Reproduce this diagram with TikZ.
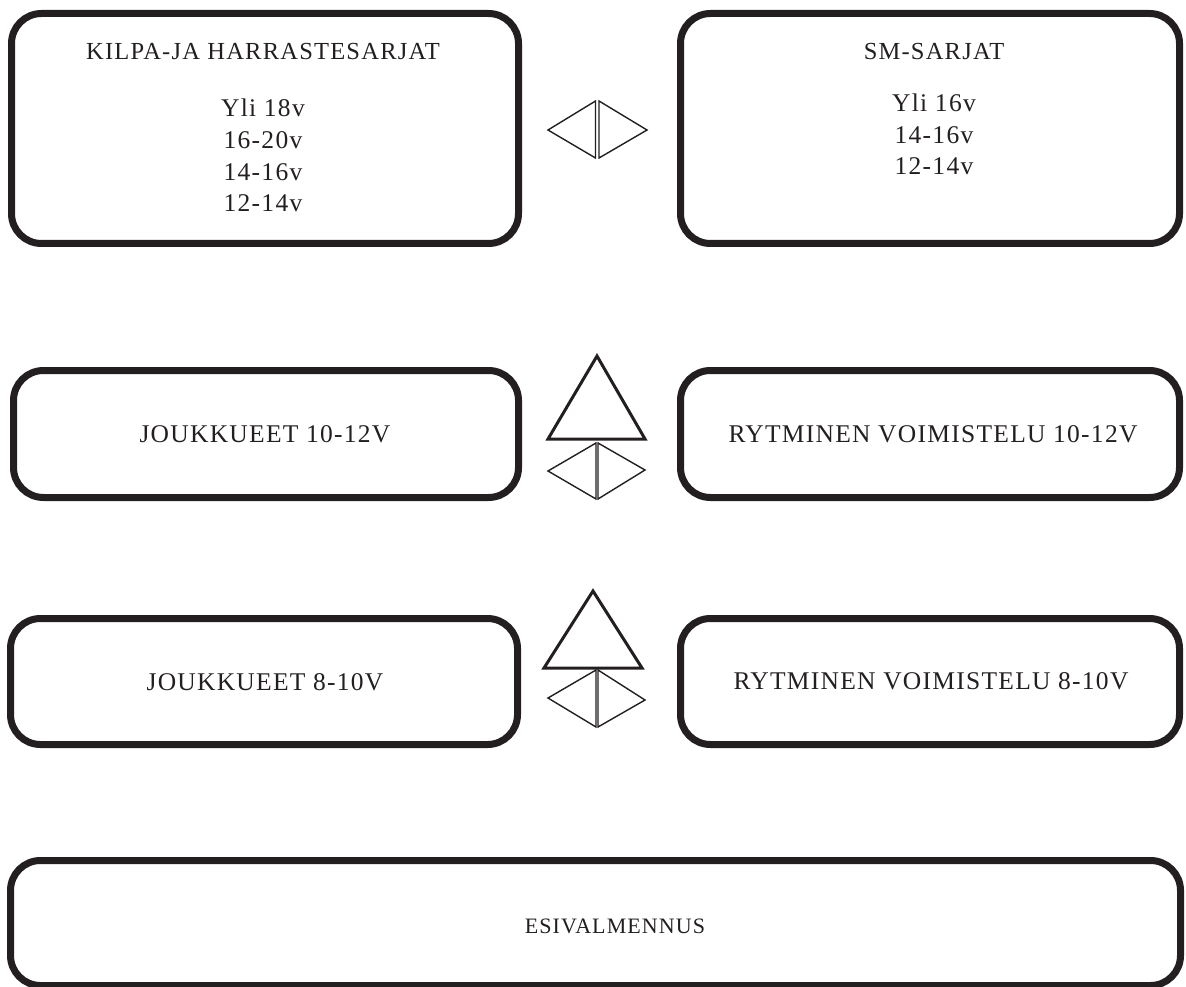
\documentclass[tikz,border=0pt]{standalone}
\usepackage{fontspec}
\setmainfont[LetterSpace=5]{Liberation Serif}
\definecolor{ink}{HTML}{231F20}
\begin{document}
\begin{tikzpicture}[x=1pt,y=-1pt,
  box/.style={draw=ink,line width=7pt,rounded corners=30pt,inner sep=0pt},
  lbl/.style={text=ink,font=\fontsize{25.5}{31.7}\selectfont,inner sep=0pt,align=center},
  tri/.style={draw=ink,line width=3pt,line join=miter},
  half/.style={draw=ink,line width=1.4pt,line join=miter}]
\useasboundingbox (0,0) rectangle (1186,987);
% boxes
\node[box,minimum width=507pt,minimum height=230pt] (b1) at (265,128.5) {};
\node[box,minimum width=499pt,minimum height=230pt] (b2) at (930,128.5) {};
\node[box,minimum width=505pt,minimum height=127pt] (b3) at (266,434) {};
\node[box,minimum width=499pt,minimum height=127pt] (b4) at (930,434) {};
\node[box,minimum width=507pt,minimum height=126pt] (b5) at (264,681.5) {};
\node[box,minimum width=499pt,minimum height=126pt] (b6) at (930,681.5) {};
\node[box,minimum width=1170pt,minimum height=125pt] (b7) at (595.5,923) {};
% texts
\node[lbl,font=\fontsize{24.5}{31.7}\selectfont] (t1) at (263,52) {KILPA-JA HARRASTESARJAT};
\node[lbl] (l1) at (263,155.5) {Yli 18v\\16-20v\\14-16v\\12-14v};
\node[lbl,font=\fontsize{24.5}{31.7}\selectfont] (t2) at (934,52) {SM-SARJAT};
\node[lbl] (l2) at (934,134.5) {Yli 16v\\14-16v\\12-14v};
\node[lbl] (t3) at (265,434) {JOUKKUEET 10-12V};
\node[lbl] (t4) at (933,434) {RYTMINEN VOIMISTELU 10-12V};
\node[lbl] (t5) at (265,682) {JOUKKUEET 8-10V};
\node[lbl] (t6) at (931,681) {RYTMINEN VOIMISTELU 8-10V};
\node[lbl,font=\fontsize{22}{25}\selectfont] (t7) at (615,926) {ESIVALMENNUS};
% diamond 1
\draw[half] (548,130) -- (595.5,101) -- (595.5,158) -- cycle;
\draw[half] (599,101) -- (647,130) -- (599,158) -- cycle;
% triangle + diamond 2
\draw[tri] (597,356) -- (645,439) -- (548,439) -- cycle;
\draw[half] (548,471) -- (596,443) -- (596,499) -- cycle;
\draw[half] (598,443) -- (645,470) -- (598,499) -- cycle;
% triangle + diamond 3
\draw[tri] (593,591) -- (642,668) -- (544,668) -- cycle;
\draw[half] (548,698) -- (596,670) -- (596,727) -- cycle;
\draw[half] (598,670) -- (645,700) -- (598,727) -- cycle;
\end{tikzpicture}
\end{document}
